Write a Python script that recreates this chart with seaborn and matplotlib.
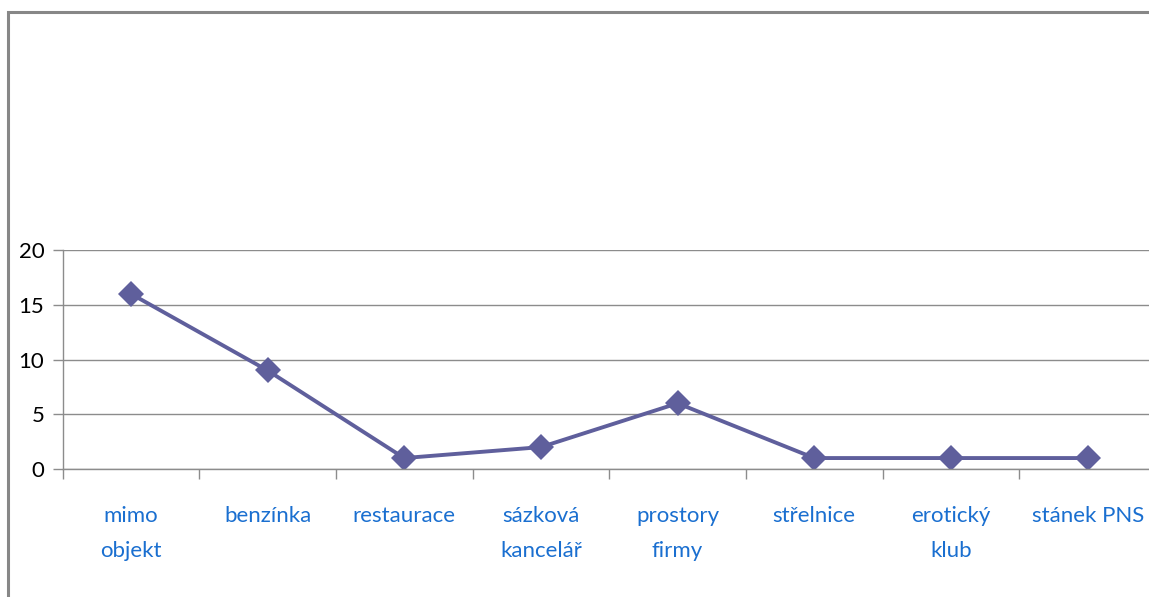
import matplotlib
matplotlib.use("Agg")
import matplotlib.pyplot as plt
import seaborn as sns
import numpy as np
import pandas as pd
from matplotlib.patches import Rectangle

categories = ["mimo\nobjekt", "benzínka", "restaurace", "sázková\nkancelář",
              "prostory\nfirmy", "střelnice", "erotický\nklub", "stánek PNS"]
values = [16, 9, 1, 2, 6, 1, 1, 1]
yticks = [0, 5, 10, 15, 20]

sns.set_style("white")
plt.rcParams['font.family'] = ['Lato', 'DejaVu Sans']

fig = plt.figure(figsize=(11.49, 5.97), dpi=100)
W, H = 1149, 597
# outer border
fig.patches.append(Rectangle((8 / W, -0.1), 1.2, 1 - 12 / H + 0.1, transform=fig.transFigure,
                             fill=False, edgecolor="#878787", linewidth=2.2, zorder=0))

ax = fig.add_axes([62.5 / W, (H - 469) / H, (1156 - 62.5) / W, (469 - 250) / H])
ax.patch.set_alpha(0)

df = pd.DataFrame({"cat": categories, "val": values})
sns.pointplot(data=df, x="cat", y="val", ax=ax, color="#5F5F9C", markers="D",
              linestyles="-", errorbar=None)
for line in ax.lines:
    line.set_linewidth(2.8)
    line.set_markersize(13)
    line.set_markeredgewidth(0)
for coll in ax.collections:
    coll.set_sizes([170])

ax.set_xlim(-0.5, len(categories) - 0.5)
ax.set_ylim(0, 20)
ax.set_yticks(yticks)
ax.set_yticklabels([str(v) for v in yticks], fontsize=16, color="black")
ax.yaxis.grid(True, color="#8C8C8C", linewidth=1.0)
ax.set_axisbelow(True)

ax.set_xticks(range(len(categories)))
ax.set_xticklabels(categories, fontsize=16, color="#1A6FD0")
for lbl in ax.get_xticklabels():
    lbl.set_linespacing(1.9)
    lbl.set_verticalalignment("top")
ax.set_xticks(np.arange(-0.5, len(categories), 1.0), minor=True)
ax.tick_params(axis="x", which="major", length=0, pad=27, bottom=True)
ax.tick_params(axis="x", which="minor", length=7, color="#8C8C8C", width=1.0,
               direction="out", bottom=True)
ax.tick_params(axis="y", length=7, color="#8C8C8C", width=1.0, direction="out", pad=6, left=True)

for s in ["top", "right"]:
    ax.spines[s].set_visible(False)
ax.spines["left"].set_color("#8C8C8C")
ax.spines["bottom"].set_color("#8C8C8C")
ax.spines["left"].set_linewidth(1.0)
ax.spines["bottom"].set_linewidth(1.0)
ax.set_xlabel("")
ax.set_ylabel("")

fig.savefig("out.png", dpi=100)
